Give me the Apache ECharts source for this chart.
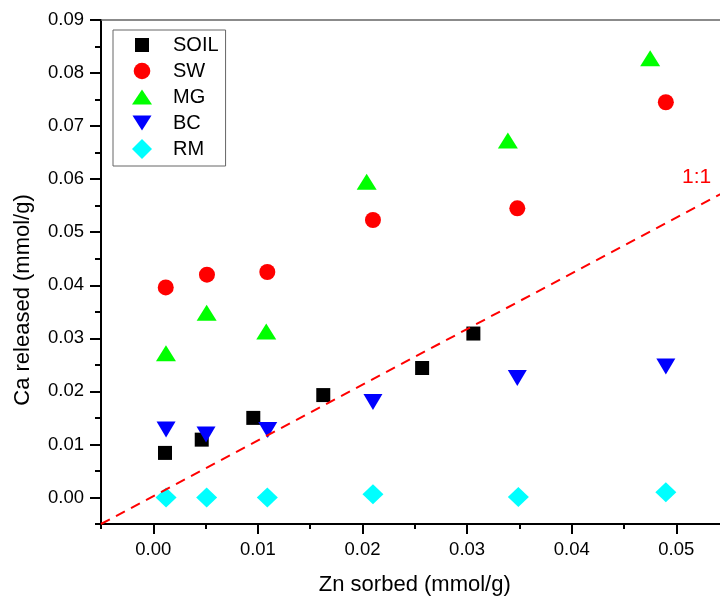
<!DOCTYPE html>
<html>
<head>
<meta charset="utf-8">
<script src="https://cdn.jsdelivr.net/npm/echarts@6/dist/echarts.min.js"></script>
<style>html,body{margin:0;padding:0;background:#fff;}#c{width:720px;height:597px;}</style>
</head>
<body>
<div id="c"></div>
<script>
const seriesNames = ['SOIL', 'SW', 'MG', 'BC', 'RM'];
const soil = [[0.00112,0.0084],[0.00463,0.0109],[0.00956,0.0150],[0.01625,0.0193],[0.0257,0.0244],[0.0306,0.0309]];
const sw   = [[0.00119,0.0396],[0.00513,0.0420],[0.0109,0.0425],[0.0210,0.0523],[0.0348,0.0545],[0.0490,0.0745]];
const mg   = [[0.00121,0.0272],[0.0051,0.0348],[0.0108,0.0313],[0.0204,0.0595],[0.0339,0.0673],[0.0475,0.0828]];
const bc   = [[0.00122,0.0128],[0.00504,0.01185],[0.01094,0.0127],[0.0210,0.0180],[0.0348,0.0225],[0.0490,0.0247]];
const rm   = [[0.00122,0.0000],[0.0051,0.0000],[0.0109,0.0000],[0.0210,0.0006],[0.0349,0.0001],[0.0490,0.0010]];
const oneToOne = [[-0.005,-0.005],[0.055,0.0580]];
const oneToOneLabel = [0.05195, 0.0604];

const xTicks = [0, 0.01, 0.02, 0.03, 0.04, 0.05];
const xMinorTicks = [-0.005, 0.005, 0.015, 0.025, 0.035, 0.045, 0.055];
const yTicks = [0, 0.01, 0.02, 0.03, 0.04, 0.05, 0.06, 0.07, 0.08, 0.09];
const yMinorTicks = [-0.005, 0.005, 0.015, 0.025, 0.035, 0.045, 0.055, 0.065, 0.075, 0.085];

const FONT = 'Liberation Sans, Arial, sans-serif';
const chart = echarts.init(document.getElementById('c'));

const xBase = { type: 'value', min: -0.005, max: 0.055, gridIndex: 0, splitLine: { show: false } };
const yBase = { type: 'value', min: -0.005, max: 0.09, gridIndex: 0, splitLine: { show: false } };

const icons = {
  SOIL: 'path://M0,0M20,20M3,3L17,3L17,17L3,17Z',
  SW: 'path://M0,0M20,20M18.3,10A8.3,8.3,0,1,1,1.7,10A8.3,8.3,0,1,1,18.3,10Z',
  MG: 'path://M0,0M20,20M10,2.5L20,17.5L0,17.5Z',
  BC: 'path://M0,0M20,20M10,17.5L0.5,2.5L19.5,2.5Z',
  RM: 'path://M0,0M20,20M10,0L20,10L10,20L0,10Z'
};

chart.setOption({
  backgroundColor: '#fff',
  animation: false,
  grid: { left: 101, top: 20, width: 627.6, height: 504, containLabel: false, outerBoundsMode: 'none' },
  legend: {
    orient: 'vertical', left: 113, top: 30,
    padding: [5, 7, 7, 19], itemGap: 6, itemWidth: 20, itemHeight: 20,
    borderColor: '#666', borderWidth: 1,
    textStyle: { fontFamily: FONT, fontSize: 20, color: '#000', padding: [0, 0, 0, 16] },
    data: seriesNames.map(n => ({ name: n, icon: icons[n] }))
  },
  xAxis: [
    Object.assign({}, xBase, {
      position: 'bottom',
      name: 'Zn sorbed (mmol/g)', nameLocation: 'middle', nameGap: 50,
      nameTextStyle: { fontFamily: FONT, fontSize: 22, color: '#000' },
      axisLine: { show: true, onZero: false, lineStyle: { color: '#000', width: 2 } },
      axisTick: { show: true, inside: false, length: 10, lineStyle: { color: '#000', width: 2 }, customValues: xTicks },
      axisLabel: { show: true, margin: 16, fontFamily: FONT, fontSize: 18.5, color: '#000',
        customValues: xTicks, formatter: v => v.toFixed(2) }
    }),
    Object.assign({}, xBase, {
      position: 'bottom',
      axisLine: { show: false, onZero: false },
      axisTick: { show: true, inside: false, length: 5, lineStyle: { color: '#000', width: 2 }, customValues: xMinorTicks },
      axisLabel: { show: false }
    }),
    Object.assign({}, xBase, {
      position: 'top',
      axisLine: { show: true, onZero: false, lineStyle: { color: '#666', width: 1.5 } },
      axisTick: { show: false },
      axisLabel: { show: false }
    })
  ],
  yAxis: [
    Object.assign({}, yBase, {
      position: 'left',
      name: 'Ca released (mmol/g)', nameLocation: 'middle', nameGap: 67,
      nameTextStyle: { fontFamily: FONT, fontSize: 22, color: '#000', padding: [0, 56, 0, 0] },
      axisLine: { show: true, onZero: false, lineStyle: { color: '#000', width: 2 } },
      axisTick: { show: true, inside: false, length: 11, lineStyle: { color: '#000', width: 2 }, customValues: yTicks },
      axisLabel: { show: true, margin: 17, fontFamily: FONT, fontSize: 18.5, color: '#000',
        customValues: yTicks, formatter: v => v.toFixed(2) }
    }),
    Object.assign({}, yBase, {
      position: 'left',
      axisLine: { show: false, onZero: false },
      axisTick: { show: true, inside: false, length: 6, lineStyle: { color: '#000', width: 2 }, customValues: yMinorTicks },
      axisLabel: { show: false }
    })
  ],
  series: [
    {
      name: '1:1', type: 'line', data: oneToOne, symbol: 'none', silent: true,
      lineStyle: { color: '#ff0000', width: 2, type: [10, 7] },
      markPoint: {
        symbol: 'circle', symbolSize: 0,
        label: { show: true, position: 'inside', formatter: '1:1', color: '#ff0000', fontFamily: FONT, fontSize: 21 },
        data: [{ coord: oneToOneLabel }]
      }
    },
    { name: 'SOIL', type: 'scatter', data: soil, symbol: 'rect', symbolSize: 14, itemStyle: { color: '#000000', opacity: 1 } },
    { name: 'SW', type: 'scatter', data: sw, symbol: 'circle', symbolSize: 16, itemStyle: { color: '#ff0000', opacity: 1 } },
    { name: 'MG', type: 'scatter', data: mg, symbol: 'triangle', symbolSize: [20, 16], itemStyle: { color: '#00ff00', opacity: 1 } },
    { name: 'BC', type: 'scatter', data: bc, symbol: 'triangle', symbolRotate: 180, symbolSize: [19, 16], itemStyle: { color: '#0000ff', opacity: 1 } },
    { name: 'RM', type: 'scatter', data: rm, symbol: 'diamond', symbolSize: [21, 20], itemStyle: { color: '#00ffff', opacity: 1 } }
  ]
});
</script>
</body>
</html>
